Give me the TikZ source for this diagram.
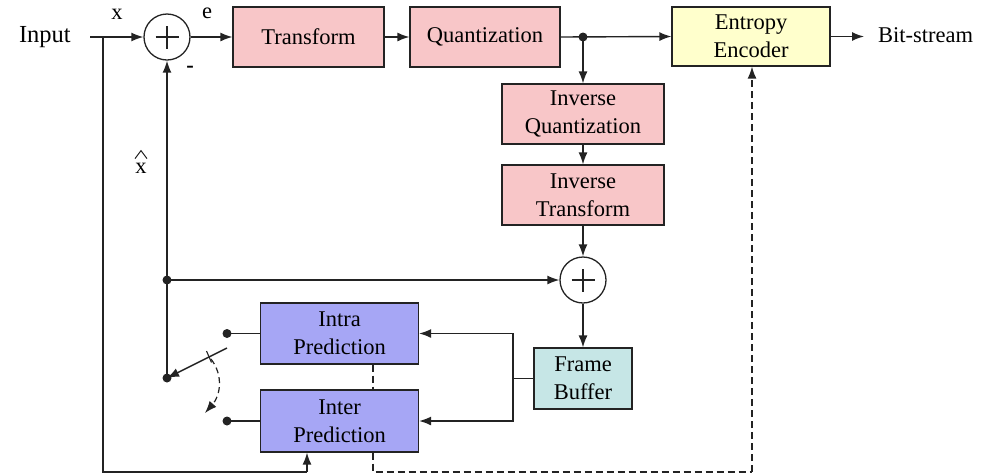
\documentclass[tikz,border=0pt]{standalone}
\usepackage{fontspec}
\setmainfont{Liberation Serif}
\usetikzlibrary{arrows.meta,calc}

\definecolor{linegray}{RGB}{35,35,35}
\definecolor{pinkfill}{RGB}{248,198,200}
\definecolor{yellowfill}{RGB}{255,255,204}
\definecolor{bluefill}{RGB}{166,166,245}
\definecolor{tealfill}{RGB}{198,230,230}

\tikzset{
  wire/.style={draw=linegray, line width=1.4pt},
  tip/.style={-{Latex[length=12pt,width=9pt]}},
  arr/.style={wire, tip},
  dashwire/.style={wire, dash pattern=on 7pt off 4pt},
  blockbox/.style={draw=linegray, line width=1.2pt, align=center,
    inner sep=0pt, font=\fontsize{22.5}{28}\selectfont},
  pinkbox/.style={blockbox, fill=pinkfill},
  summer/.style={draw=linegray, line width=1.3pt, circle, minimum size=46pt,
    inner sep=0pt,
    path picture={\draw[linegray, line width=1.3pt]
      ($(path picture bounding box.center)+(-11.5pt,0)$) --
      ($(path picture bounding box.center)+(11.5pt,0)$)
      ($(path picture bounding box.center)+(0,-11.5pt)$) --
      ($(path picture bounding box.center)+(0,11.5pt)$);}},
  junction/.style={circle, fill=linegray, inner sep=0pt, minimum size=9pt},
  label/.style={font=\fontsize{22.5}{28}\selectfont, inner sep=0pt}
}

\begin{document}
\begin{tikzpicture}[x=1pt, y=-1pt]
\useasboundingbox (0,0) rectangle (982,475);

% blocks
\node[pinkbox, minimum width=151pt, minimum height=60pt] (tr) at (308.5,37) {Transform};
\node[pinkbox, minimum width=150pt, minimum height=60pt] (qu) at (485,37) {Quantization};
\node[blockbox, fill=yellowfill, minimum width=158pt, minimum height=59pt] (ee) at (751,36.5) {Entropy\\Encoder};
\node[pinkbox, minimum width=162pt, minimum height=60pt] (iq) at (583,114) {Inverse\\Quantization};
\node[pinkbox, minimum width=162pt, minimum height=60pt] (it) at (583,195) {Inverse\\Transform};
\node[blockbox, fill=bluefill, minimum width=158pt, minimum height=61pt] (intra) at (339.5,333.5) {Intra\\Prediction};
\node[blockbox, fill=bluefill, minimum width=158pt, minimum height=62pt] (inter) at (339.5,421) {Inter\\Prediction};
\node[blockbox, fill=tealfill, minimum width=98pt, minimum height=61pt] (fb) at (583,378.5) {Frame\\Buffer};

% adders
\node[summer] (s1) at (167,37) {};
\node[summer] (s2) at (583,280) {};

% texts
\node[label, anchor=east, font=\fontsize{24.5}{28}\selectfont] (inp) at (71,37) {Input};
\node[label, anchor=west] (bs) at (878,35) {Bit-stream};
\node[label] (lx) at (117,14) {x};
\node[label] (le) at (207,13) {e};
\node[label, font=\fontsize{22.5}{28}\selectfont\bfseries] (lm) at (190,69) {-};
\node[label] (lxh) at (141,168) {x};
% circumflex over the prediction symbol
\draw[linegray, line width=1pt] ($(lxh.north)+(-6pt,4pt)$) -- ($(lxh.north)+(0,12pt)$) -- ($(lxh.north)+(6pt,4pt)$);

% junctions and switch contacts
\coordinate (instart) at (90,37);
\coordinate (jin) at (103,37);
\node[junction] (jq) at (583,37) {};
\node[junction] (jfb) at (167,280) {};
\node[junction] (jsw) at (167,378) {};
\node[junction] (cintra) at (227,333.5) {};
\node[junction] (cinter) at (227,421) {};
\coordinate (armtop) at (227,348);
\coordinate (cornerL) at (103,472);
\coordinate (cornerM) at (307,472);
\coordinate (dashA) at (373,472);
\coordinate (dashB) at (752,472);
\coordinate (bsend) at (864,36.5);
\coordinate (fbsplit) at (513,378.5);

% forward path
\draw[arr] (instart) -- (s1.west);
\draw[arr] (s1.east) -- (tr.west);
\draw[arr] (tr.east) -- (qu.west);
\draw[arr] (qu.east) -- (ee.west);
\draw[arr] (ee.east) -- (bsend);

% reconstruction path
\draw[arr] (jq.center) -- (iq.north);
\draw[arr] (iq.south) -- (it.north);
\draw[arr] (it.south) -- (s2.north);
\draw[arr] (s2.south) -- (fb.north);
\draw[arr] (jfb.center) -- (s2.west);
\draw[arr] (jsw.center) -- (s1.south);

% frame buffer to predictors
\draw[wire] (fb.west) -- (fbsplit);
\draw[arr] (fbsplit) |- (intra.east |- 0,333.5);
\draw[arr] (fbsplit) |- (inter.east);

% input to inter prediction
\draw[wire] (jin) -- (cornerL) -- (cornerM);
\draw[arr] (cornerM) -- (cornerM |- inter.south);

% switch
\draw[wire] (cintra.center) -- (intra.west |- cintra);
\draw[wire] (cinter.center) -- (inter.west);
\draw[arr] (armtop) -- (jsw.center);
\draw[wire, line width=1.1pt] (206.5,351) -- (211.5,362.5);
\draw[wire, line width=1.2pt, dash pattern=on 6pt off 4pt, tip]
  (211,359) .. controls (224,376) and (220,396) .. (205,413);

% mode side information
\draw[dashwire] (intra.south -| dashA) -- (inter.north -| dashA);
\draw[dashwire] (inter.south -| dashA) -- (dashA) -- (dashB);
\draw[dashwire, tip] (dashB) -- (ee.south -| dashB);
\end{tikzpicture}
\end{document}
